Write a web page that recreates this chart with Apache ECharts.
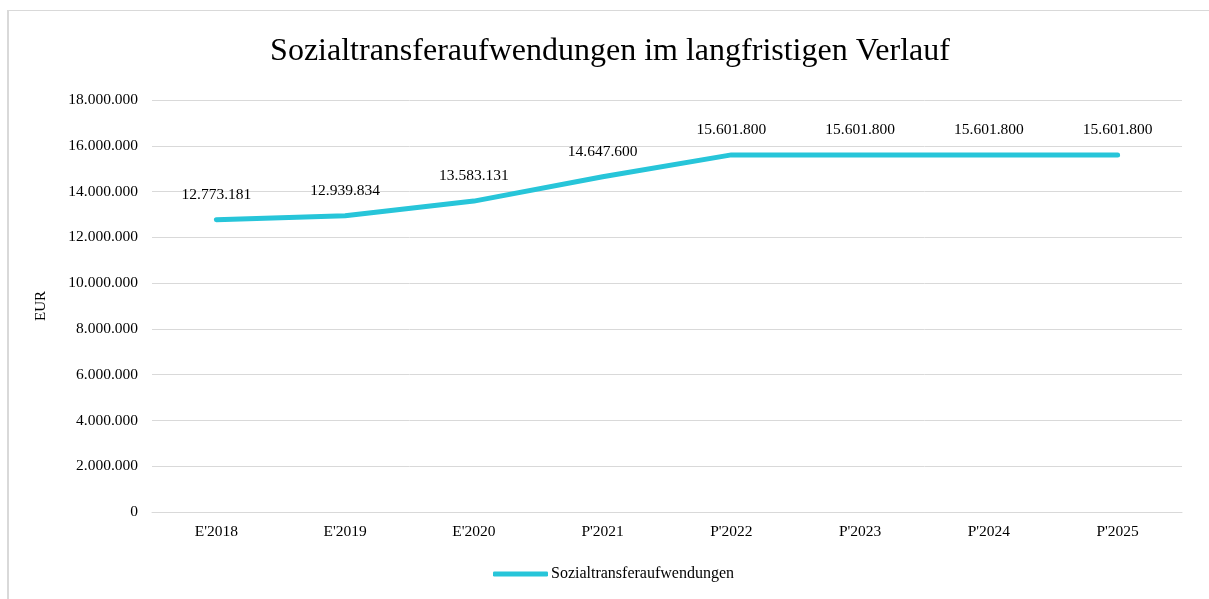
<!DOCTYPE html>
<html lang="de" style="height: 100%">
<head>
  <meta charset="utf-8">
  <title>Sozialtransferaufwendungen</title>
  <script src="https://cdn.jsdelivr.net/npm/echarts@6/dist/echarts.min.js"></script>
</head>
<body style="height: 100%; margin: 0; background: #fff">
<div id="frame" style="position: absolute; left: 7px; top: 10px; width: 1300px; height: 700px; border-left: 2px solid #d9d9d9; border-top: 1px solid #d9d9d9"></div>
<div id="main" style="position: absolute; left: 0; top: 0; width: 1209px; height: 599px"></div>

<script type="text/javascript">
  // Daten
  var jahre = ["E'2018", "E'2019", "E'2020", "P'2021", "P'2022", "P'2023", "P'2024", "P'2025"];
  var aufwendungen = [12773181, 12939834, 13583131, 14647600, 15601800, 15601800, 15601800, 15601800];
  var serienName = 'Sozialtransferaufwendungen';

  function fmt(v) {
    return String(Math.round(v)).replace(/\B(?=(\d{3})+(?!\d))/g, '.');
  }

  var schrift = 'Liberation Serif';
  var chart = echarts.init(document.getElementById('main'));

  chart.setOption({
    animation: false,
    textStyle: { fontFamily: schrift },
    title: {
      text: 'Sozialtransferaufwendungen im langfristigen Verlauf',
      left: 605,
      textAlign: 'center',
      top: 31,
      textStyle: { fontFamily: schrift, fontSize: 32, fontWeight: 'normal', color: '#000' }
    },
    grid: { left: 152, right: 27, top: 100, bottom: 87 },
    legend: {
      bottom: 12,
      left: 488,
      itemWidth: 55,
      itemHeight: 5,
      itemGap: 5,
      icon: 'roundRect',
      textStyle: { fontFamily: schrift, fontSize: 16, color: '#000', padding: [0, 0, 0, -2] },
      data: [serienName]
    },
    xAxis: {
      type: 'category',
      data: jahre,
      boundaryGap: true,
      axisLine: { lineStyle: { color: '#d9d9d9', width: 1 } },
      axisTick: { show: false },
      axisLabel: { color: '#000', fontSize: 15.5, fontFamily: schrift, margin: 12 }
    },
    yAxis: {
      type: 'value',
      min: 0,
      max: 18000000,
      interval: 2000000,
      name: 'EUR',
      nameLocation: 'middle',
      nameGap: 103,
      nameRotate: 90,
      nameTextStyle: { color: '#000', fontSize: 15, fontFamily: schrift },
      axisLabel: { color: '#000', fontSize: 15.5, fontFamily: schrift, margin: 14, formatter: fmt },
      splitLine: { lineStyle: { color: '#d9d9d9', width: 1 } }
    },
    series: [{
      name: serienName,
      type: 'line',
      data: aufwendungen,
      symbol: 'circle',
      symbolSize: 0.1,
      showSymbol: true,
      lineStyle: { color: '#27c5d9', width: 5, cap: 'round', join: 'round' },
      itemStyle: { color: '#27c5d9' },
      label: {
        show: true,
        position: 'top',
        distance: 17,
        color: '#000',
        fontSize: 15.5,
        fontFamily: schrift,
        formatter: function (p) { return fmt(p.value); }
      }
    }]
  });

  window.addEventListener('resize', chart.resize);
</script>
</body>
</html>
